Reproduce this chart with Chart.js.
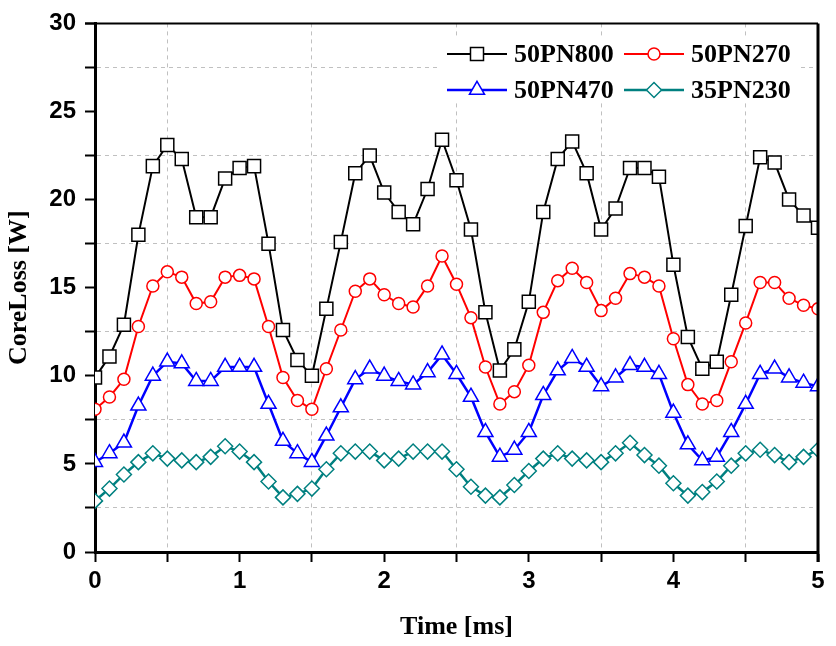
<!DOCTYPE html>
<html lang="en">
<head>
    <meta charset="UTF-8">
    <title>Core Loss vs Time</title>
    <script src="https://cdn.jsdelivr.net/npm/chart.js"></script>
    <style>
        body { margin: 0; background: #fff; }
    </style>
</head>
<body>
    <canvas id="coreLossChart" width="836" height="646"></canvas>

    <script>
        // Time axis (ms) and core loss readings (W)
        const timeMs = [0, 0.1, 0.2, 0.3, 0.4, 0.5, 0.6, 0.7, 0.8, 0.9,
                        1.0, 1.1, 1.2, 1.3, 1.4, 1.5, 1.6, 1.7, 1.8, 1.9,
                        2.0, 2.1, 2.2, 2.3, 2.4, 2.5, 2.6, 2.7, 2.8, 2.9,
                        3.0, 3.1, 3.2, 3.3, 3.4, 3.5, 3.6, 3.7, 3.8, 3.9,
                        4.0, 4.1, 4.2, 4.3, 4.4, 4.5, 4.6, 4.7, 4.8, 4.9, 5.0];
        const seriesNames = ['50PN800', '50PN270', '50PN470', '35PN230'];
        const loss50PN800 = [9.9, 11.1, 12.9, 18.0, 21.9, 23.1, 22.3, 19.0, 19.0, 21.2,
                             21.8, 21.9, 17.5, 12.6, 10.9, 10.0, 13.8, 17.6, 21.5, 22.5,
                             20.4, 19.3, 18.6, 20.6, 23.4, 21.1, 18.3, 13.6, 10.3, 11.5,
                             14.2, 19.3, 22.3, 23.3, 21.5, 18.3, 19.5, 21.8, 21.8, 21.3,
                             16.3, 12.2, 10.4, 10.8, 14.6, 18.5, 22.4, 22.1, 20.0, 19.1, 18.4];
        const loss50PN270 = [8.1, 8.8, 9.8, 12.8, 15.1, 15.9, 15.6, 14.1, 14.2, 15.6,
                             15.7, 15.5, 12.8, 9.9, 8.6, 8.1, 10.4, 12.6, 14.8, 15.5,
                             14.6, 14.1, 13.9, 15.1, 16.8, 15.2, 13.3, 10.5, 8.4, 9.1,
                             10.6, 13.6, 15.4, 16.1, 15.3, 13.7, 14.4, 15.8, 15.6, 15.1,
                             12.1, 9.5, 8.4, 8.6, 10.8, 13.0, 15.3, 15.3, 14.4, 14.0, 13.8];
        const loss50PN470 = [5.1, 5.6, 6.2, 8.3, 10.0, 10.8, 10.7, 9.7, 9.7, 10.5,
                             10.5, 10.5, 8.4, 6.3, 5.6, 5.1, 6.6, 8.2, 9.8, 10.4,
                             10.0, 9.7, 9.5, 10.2, 11.2, 10.1, 8.8, 6.8, 5.4, 5.8,
                             6.8, 8.9, 10.3, 11.0, 10.5, 9.4, 9.9, 10.6, 10.5, 10.1,
                             7.9, 6.1, 5.2, 5.4, 6.8, 8.4, 10.1, 10.4, 9.9, 9.6, 9.4];
        const loss35PN230 = [2.9, 3.6, 4.4, 5.1, 5.6, 5.3, 5.2, 5.1, 5.4, 6.0,
                             5.7, 5.1, 4.0, 3.1, 3.3, 3.6, 4.7, 5.6, 5.7, 5.7,
                             5.2, 5.3, 5.7, 5.7, 5.7, 4.7, 3.7, 3.2, 3.1, 3.8,
                             4.6, 5.3, 5.6, 5.3, 5.2, 5.1, 5.6, 6.2, 5.5, 4.9,
                             3.9, 3.2, 3.4, 4.0, 4.9, 5.6, 5.8, 5.5, 5.1, 5.4, 5.8];

        const tickFont = { family: '"Liberation Sans", Arial, sans-serif', size: 24, weight: 'bold' };
        const titleFont = { family: '"Liberation Serif", "Times New Roman", serif', size: 26, weight: 'bold' };

        function makeSeries(label, data, color, style, radius, lineWidth) {
            return {
                label: label,
                data: data,
                borderColor: color,
                borderWidth: lineWidth,
                pointStyle: style,
                pointRadius: radius,
                pointHoverRadius: radius,
                pointBackgroundColor: '#ffffff',
                pointBorderColor: color,
                pointBorderWidth: 1.5,
                tension: 0,
                fill: false,
                clip: 0
            };
        }

        // Origin style frame: top and right lines
        const framePlugin = {
            id: 'frame',
            afterDatasetsDraw(chart) {
                const { ctx, chartArea: a } = chart;
                ctx.save();
                ctx.strokeStyle = '#000';
                ctx.lineWidth = 2;
                ctx.beginPath();
                ctx.moveTo(a.left - 10, a.top);
                ctx.lineTo(a.right, a.top);
                ctx.stroke();
                ctx.lineWidth = 3;
                ctx.beginPath();
                ctx.moveTo(a.right, a.top);
                ctx.lineTo(a.right, a.bottom + 10);
                ctx.stroke();
                ctx.restore();
            }
        };

        // Legend with line + marker, two columns, white box
        const legendPlugin = {
            id: 'lineLegend',
            afterDatasetsDraw(chart) {
                const ctx = chart.ctx;
                const slots = [
                    { x: 447, y: 54 }, { x: 624, y: 54 },
                    { x: 447, y: 90 }, { x: 624, y: 90 }
                ];
                ctx.save();
                ctx.fillStyle = '#ffffff';
                ctx.fillRect(437, 37, 362, 66);
                chart.data.datasets.forEach((ds, i) => {
                    const s = slots[i];
                    ctx.strokeStyle = ds.borderColor;
                    ctx.lineWidth = ds.borderWidth;
                    ctx.beginPath();
                    ctx.moveTo(s.x, s.y);
                    ctx.lineTo(s.x + 60, s.y);
                    ctx.stroke();
                    ctx.fillStyle = '#ffffff';
                    ctx.strokeStyle = ds.borderColor;
                    ctx.lineWidth = 1.5;
                    Chart.helpers.drawPoint(ctx, {
                        pointStyle: ds.pointStyle,
                        radius: ds.pointRadius,
                        borderWidth: 1.5
                    }, s.x + 30, s.y);
                    ctx.fillStyle = '#000';
                    ctx.font = 'bold 26px "Liberation Serif", "Times New Roman", serif';
                    ctx.textBaseline = 'middle';
                    ctx.textAlign = 'left';
                    ctx.fillText(ds.label, s.x + 67, s.y + 1);
                });
                ctx.restore();
            }
        };

        const ctx = document.getElementById('coreLossChart').getContext('2d');
        const coreLossChart = new Chart(ctx, {
            type: 'line',
            data: {
                labels: timeMs,
                datasets: [
                    makeSeries(seriesNames[0], loss50PN800, '#000000', 'rect', 9.2, 2),
                    makeSeries(seriesNames[1], loss50PN270, '#ff0000', 'circle', 6, 2),
                    makeSeries(seriesNames[2], loss50PN470, '#0000ff', 'triangle', 8.7, 2.5),
                    makeSeries(seriesNames[3], loss35PN230, '#008080', 'rectRot', 7.5, 2.5)
                ]
            },
            options: {
                responsive: false,
                animation: false,
                layout: { padding: { top: 21, right: 18, left: 0, bottom: 0 } },
                plugins: {
                    legend: { display: false },
                    tooltip: { enabled: false }
                },
                scales: {
                    x: {
                        type: 'linear',
                        min: 0,
                        max: 5,
                        afterFit(scale) { scale.height = 94; },
                        ticks: {
                            stepSize: 0.5,
                            autoSkip: false,
                            maxRotation: 0,
                            padding: 5,
                            color: '#000',
                            font: tickFont,
                            callback: (v) => (v % 1 === 0 ? v : '')
                        },
                        grid: {
                            color: (c) => (c.tick && c.tick.value % 1 !== 0 ? '#c0c0c0' : 'rgba(0,0,0,0)'),
                            lineWidth: 1,
                            tickColor: '#000',
                            tickWidth: 2,
                            tickLength: 10
                        },
                        border: { display: true, color: '#000', width: 3, dash: [4, 4] },
                        title: {
                            display: true,
                            text: 'Time [ms]',
                            color: '#000',
                            font: titleFont,
                            padding: { top: 0, bottom: 3 }
                        }
                    },
                    y: {
                        min: 0,
                        max: 30,
                        afterFit(scale) { scale.width = 95; },
                        ticks: {
                            stepSize: 2.5,
                            autoSkip: false,
                            padding: 9,
                            color: '#000',
                            font: tickFont,
                            callback: (v) => (v % 5 === 0 ? v : '')
                        },
                        grid: {
                            color: (c) => (c.tick && c.tick.value % 5 !== 0 ? '#c0c0c0' : 'rgba(0,0,0,0)'),
                            lineWidth: 1,
                            tickColor: '#000',
                            tickWidth: 2,
                            tickLength: 10
                        },
                        border: { display: true, color: '#000', width: 3, dash: [4, 4] },
                        title: {
                            display: true,
                            text: 'CoreLoss [W]',
                            color: '#000',
                            font: titleFont,
                            padding: { top: 4, bottom: 0 }
                        }
                    }
                }
            },
            plugins: [framePlugin, legendPlugin]
        });
    </script>
</body>
</html>
